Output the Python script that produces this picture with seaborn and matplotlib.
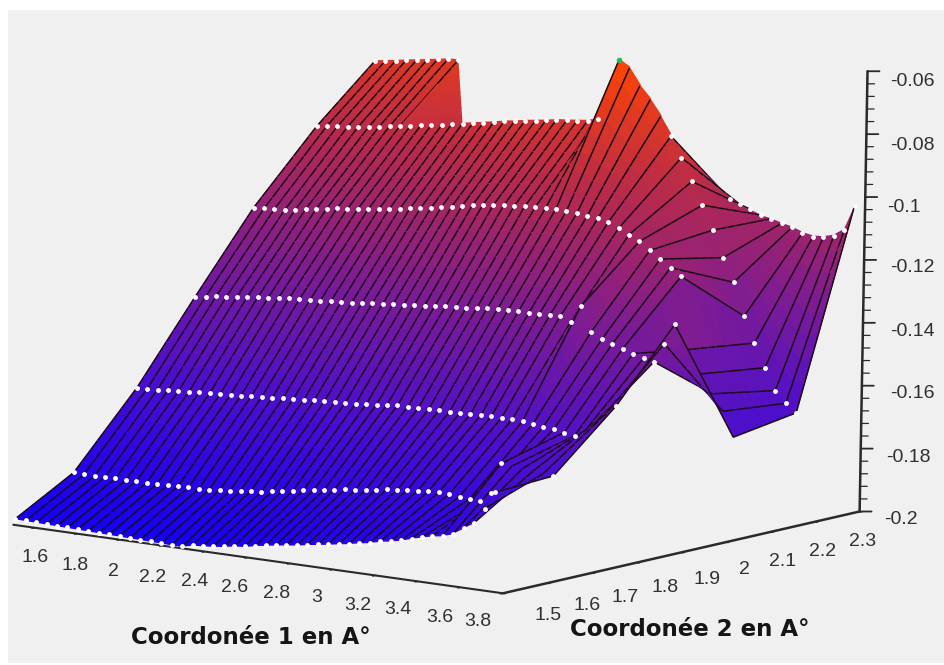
import numpy as np
import matplotlib
matplotlib.use("Agg")
import matplotlib.pyplot as plt
from matplotlib.patches import Rectangle
from mpl_toolkits.mplot3d.art3d import Poly3DCollection
import seaborn as sns

# Coordinates of the grid
coord1 = [1.5, 1.55, 1.6, 1.65, 1.7, 1.75, 1.8, 1.85, 1.9, 1.95, 2.0, 2.05, 2.1, 2.15, 2.2, 2.25,
          2.3, 2.35, 2.4, 2.45, 2.5, 2.55, 2.6, 2.65, 2.7, 2.75, 2.8, 2.85, 2.9, 2.95, 3.0, 3.05,
          3.1, 3.15, 3.2, 3.25, 3.3, 3.35, 3.4, 3.45, 3.5, 3.55, 3.6, 3.65, 3.7, 3.75, 3.8]
coord2 = [1.5, 1.63, 1.77, 1.9, 2.03, 2.17, 2.3]

# Energy, one list per coord2 row
row0 = [-.2, -.2, -.2, -.2, -.2, -.2, -.2, -.2, -.2, -.2, -.2, -.2, -.2, -.2, -.2, -.2, -.2,
        -.1990, -.1987, -.1983, -.1978, -.1971, -.1967, -.1959, -.1952, -.1946, -.1940, -.1935,
        -.1928, -.1922, -.1916, -.1909, -.1903, -.1895, -.1889, -.1879, -.1873, -.1865, -.1854,
        -.1844, -.1835, -.1828, -.1816, -.1793, -.1771, -.1720, -.1663]
row1 = [-.1895, -.1895, -.1895, -.1893, -.1892, -.1892, -.1890, -.1889, -.1887, -.1886, -.1884,
        -.1882, -.1881, -.1878, -.1874, -.1870, -.1865, -.1860, -.1857, -.1851, -.1844, -.1838,
        -.1831, -.1825, -.1819, -.1812, -.1806, -.1801, -.1796, -.1790, -.1784, -.1781, -.1774,
        -.1771, -.1768, -.1766, -.1766, -.1768, -.1769, -.1771, -.1739, -.1641, -.1644, -.1647,
        -.1650, -.1652, -.1653]
row2 = [-.1672, -.1669, -.1666, -.1663, -.1660, -.1657, -.1653, -.1650, -.1647, -.1644, -.1641,
        -.1637, -.1634, -.1631, -.1628, -.1625, -.1622, -.1618, -.1615, -.1612, -.1609, -.1606,
        -.1603, -.1598, -.1593, -.1590, -.1588, -.1587, -.1585, -.1583, -.1582, -.1580, -.1579,
        -.1577, -.1575, -.1574, -.1574, -.1574, -.1577, -.1580, -.1583, -.1588, -.1593, -.1571,
        -.1539, -.1507, -.1475]
row3 = [-.1424, -.1418, -.1412, -.1407, -.1402, -.1397, -.1393, -.1388, -.1383, -.1380, -.1377,
        -.1374, -.1370, -.1367, -.1364, -.1361, -.1356, -.1351, -.1347, -.1342, -.1339, -.1335,
        -.1331, -.1326, -.1323, -.1319, -.1316, -.1312, -.1307, -.1304, -.1302, -.1300, -.1299,
        -.1297, -.1296, -.1294, -.1307, -.1250, -.1326, -.1345, -.1354, -.1364, -.1374, -.1383,
        -.1389, -.1326, -.1259]
row4 = [-.1183, -.1180, -.1176, -.1173, -.1167, -.1160, -.1154, -.1148, -.1141, -.1137, -.1132,
        -.1127, -.1122, -.1116, -.1110, -.1103, -.1097, -.1091, -.1083, -.1075, -.1067, -.1059,
        -.1052, -.1048, -.1043, -.1040, -.1036, -.1033, -.1030, -.1027, -.1029, -.1030, -.1033,
        -.1036, -.1043, -.1056, -.1071, -.1087, -.1110, -.1132, -.1154, -.1176, -.1402, -.1475,
        -.1533, -.1583, -.1660]
row5 = [-.0970, -.0963, -.0959, -.0954, -.0949, -.0944, -.0938, -.0931, -.0925, -.0919, -.0912,
        -.0906, -.0900, -.0890, -.0884, -.0877, -.0870, -.0863, -.0855, -.0849, -.0842, -.0836,
        -.0830, -.0823, -.0819, -.0814, -.0809, -.0798, -.0712, -.0600, -.0620, -.0671, -.0709,
        -.0757, -.0814, -.0877, -.0947, -.1017, -.1091, -.1173, -.1246, -.1348, -.1428, -.1501,
        -.1568, -.1603, -.1628]
nan = float("nan")
row6 = [-.0804, -.0798, -.0792, -.0785, -.0779, -.0773, -.0766, -.0760, -.0757,
        nan, nan, nan, nan, nan, nan, nan, nan, nan, nan, nan, nan, nan, nan, nan, nan,
        nan, nan, nan, nan, nan, nan, nan, nan, nan,
        -.1056, -.1068, -.1078, -.1091, -.1097, -.1106, -.1113, -.1126, -.1132, -.1129,
        -.1119, -.1094, -.1011]

x_ticks = ["1.6", "1.8", "2", "2.2", "2.4", "2.6", "2.8", "3", "3.2", "3.4", "3.6", "3.8"]
y_ticks = ["1.5", "1.6", "1.7", "1.8", "1.9", "2", "2.1", "2.2", "2.3"]
z_ticks = ["-0.06", "-0.08", "-0.1", "-0.12", "-0.14", "-0.16", "-0.18", "-0.2"]

# label positions in pixels of the 944x665 picture
x_label_px = [(35, 558), (75, 565), (113, 571), (153, 577), (195, 582), (235, 587), (277, 593),
              (317, 598), (358, 605), (398, 610), (440, 617), (478, 622)]
y_label_px = [(548, 616), (587, 606), (625, 597), (665, 588), (707, 579), (744, 570), (783, 561),
              (823, 552), (863, 542)]
z_label_px = [(912, 81), (912, 146), (904, 207), (912, 268), (912, 331), (912, 394), (908, 458), (901, 520)]

sns.set_theme(style="white")
plt.rcParams["font.family"] = ["Liberation Sans", "DejaVu Sans"]

X = np.array(coord1)
Y = np.array(coord2)
Z = np.array([row0, row1, row2, row3, row4, row5, row6])

fig = plt.figure(figsize=(9.44, 6.65), dpi=100, facecolor="white")
fig.patches.append(Rectangle((8 / 944, 2 / 665), 936 / 944, 653 / 665, transform=fig.transFigure,
                             facecolor="#f0f0f0", edgecolor="none", zorder=-5))
ax = fig.add_axes([-39.5 / 944, -107 / 665, 924 / 944, 924 / 665], projection="3d")
ax.set_facecolor("none")
ax.patch.set_alpha(0)
ax.set_proj_type("ortho")
ELEV, AZIM = 11.2, -49.5
BOX = np.array([631, 554, 449]) / np.linalg.norm([631, 554, 449]) * 1.9057
ax.view_init(elev=ELEV, azim=AZIM)
ax.set_box_aspect((631, 554, 449))
ax.set_xlim(1.5, 3.8, view_margin=0)
ax.set_ylim(1.5, 2.3, view_margin=0)
ax.set_zlim(-0.2, -0.06, view_margin=0)
ax.set_axis_off()
ax.computed_zorder = False

cmap = sns.blend_palette(["#1400f5", "#4a0ed0", "#7e1c92", "#bb2b48", "#ff4500"], as_cmap=True)


def color_of(z):
    return cmap((z + 0.2) / 0.14)


# push a line towards the viewer so it is drawn after the cells next to it
e, a = np.radians(ELEV), np.radians(AZIM)
spans = np.array([2.3, 0.8, 0.14])
toward = np.array([np.cos(e) * np.cos(a), np.cos(e) * np.sin(a), np.sin(e)]) * spans / BOX * 0.02

polys, faces, edges = [], [], []
SUB = 8
clear = (0, 0, 0, 0)
line_color = "#1c0a14"
# cells overlap by about a pixel so no seams show, the collection has one line width
GROW_X, GROW_T = 0.002, 0.01
for r in range(len(Y) - 1):
    for c in range(len(X)):
        for s in range(SUB):
            t0, t1 = s / SUB, (s + 1) / SUB
            y0, y1 = Y[r] + (Y[r + 1] - Y[r]) * t0, Y[r] + (Y[r + 1] - Y[r]) * t1
            # cell to the right of this column
            if c < len(X) - 1:
                q = Z[r:r + 2, c:c + 2]
                if not np.isnan(q).any():
                    u0, u1 = t0 - GROW_T, t1 + GROW_T
                    ya, yb = Y[r] + (Y[r + 1] - Y[r]) * u0, Y[r] + (Y[r + 1] - Y[r]) * u1
                    zl0, zl1 = q[0, 0] + (q[1, 0] - q[0, 0]) * u0, q[0, 0] + (q[1, 0] - q[0, 0]) * u1
                    zr0, zr1 = q[0, 1] + (q[1, 1] - q[0, 1]) * u0, q[0, 1] + (q[1, 1] - q[0, 1]) * u1
                    xa, xb = X[c] - GROW_X, X[c + 1] + GROW_X
                    polys.append([(xa, ya, zl0), (xb, ya, zr0), (xb, yb, zr1), (xa, yb, zl1)])
                    faces.append(color_of((zl0 + zl1 + zr0 + zr1) / 4))
                    edges.append(clear)
            # column line, as a flat four point polygon
            if not np.isnan(Z[r:r + 2, c]).any():
                z0 = Z[r, c] + (Z[r + 1, c] - Z[r, c]) * t0
                z1 = Z[r, c] + (Z[r + 1, c] - Z[r, c]) * t1
                p0 = tuple(np.array([X[c], y0, z0]) + toward)
                p1 = tuple(np.array([X[c], y1, z1]) + toward)
                polys.append([p0, p1, p1, p0])
                faces.append(clear)
                edges.append(line_color)

# missing corner of the back row, closed by one triangle cut in bands for the shading
apex = np.array([X[8], Y[6], Z[6, 8]])
low_a = np.array([X[8], Y[5], Z[5, 8]])
low_b = np.array([X[14], Y[5], Z[5, 14]])
for s in range(SUB):
    t0, t1 = s / SUB - GROW_T, (s + 1) / SUB + GROW_T
    a0, b0 = low_a + (apex - low_a) * t0, low_b + (apex - low_b) * t0
    a1, b1 = low_a + (apex - low_a) * t1, low_b + (apex - low_b) * t1
    polys.append([tuple(a0), tuple(b0), tuple(b1), tuple(a1)])
    faces.append(color_of((a0[2] + b0[2] + a1[2] + b1[2]) / 4))
    edges.append(clear)

surf = Poly3DCollection(polys, facecolors=faces, edgecolors=edges, linewidths=1.1, zorder=2)
ax.add_collection3d(surf)

# white dots of the rows, only where the row can be seen
dot_cols = [range(0, 47), list(range(0, 42)) + [46], list(range(0, 43)) + [46], range(0, 47),
            range(0, 42), list(range(0, 28)) + list(range(34, 47)), list(range(0, 9)) + list(range(34, 47))]
for r, cols in enumerate(dot_cols):
    cols = list(cols)
    ax.plot(X[cols], np.full(len(cols), Y[r]), Z[r, cols], ls="", marker="o", ms=3.5, mfc="white",
            mec="none", zorder=4)
ax.plot([X[29]], [Y[5]], [Z[5, 29]], ls="", marker="o", ms=4, mfc="#2fb35a", mec="none", zorder=5)

# axis lines and ticks, the frame sits a little off the surface box
axis_color = "#2a2a2a"
left = np.array([1.4945, 1.498, -0.2019])
corner = np.array([3.822, 1.5075, -0.1984])
right = np.array([3.8138, 2.3047, -0.1984])
top = np.array([3.836, 2.312, -0.0584])
for p, q, lw in [(left, corner, 1.5), (corner, right, 1.8), (right, top, 1.8)]:
    ax.plot(*zip(p, q), color=axis_color, lw=lw, zorder=1)
for v in np.arange(1.6, 3.81, 0.2):
    p = left + (corner - left) * (v - 1.5) / 2.3
    ax.plot([p[0], p[0]], [p[1], p[1] - 0.006], [p[2], p[2]], color=axis_color, lw=1, zorder=1)
for v in np.arange(1.5, 2.31, 0.1):
    p = corner + (right - corner) * (v - 1.5) / 0.8
    ax.plot([p[0], p[0] + 0.012], [p[1], p[1]], [p[2], p[2]], color=axis_color, lw=1, zorder=1)
for i in range(36):
    p = right + (top - right) * i / 35
    d = 0.033 if i % 5 == 0 else 0.02
    ax.plot([p[0], p[0] + d], [p[1], p[1] + d * 0.341], [p[2], p[2]], color=axis_color,
            lw=1.3 if i % 5 == 0 else 0.9, zorder=1)


def put(label, pos, **kw):
    fig.text(pos[0] / 944, 1 - pos[1] / 665, label, ha="center", va="center", **kw)


for lab, pos in zip(x_ticks, x_label_px):
    put(lab, pos, fontsize=14, color="#303030")
for lab, pos in zip(y_ticks, y_label_px):
    put(lab, pos, fontsize=14, color="#303030")
for lab, pos in zip(z_ticks, z_label_px):
    put(lab, pos, fontsize=14, color="#303030")
put("Coordonée 1 en A°", (251, 637), fontsize=16.5, fontweight="bold", family="DejaVu Sans", color="#151515")
put("Coordonée 2 en A°", (690, 630), fontsize=16.5, fontweight="bold", family="DejaVu Sans", color="#151515")

fig.savefig("out.png", dpi=100)
